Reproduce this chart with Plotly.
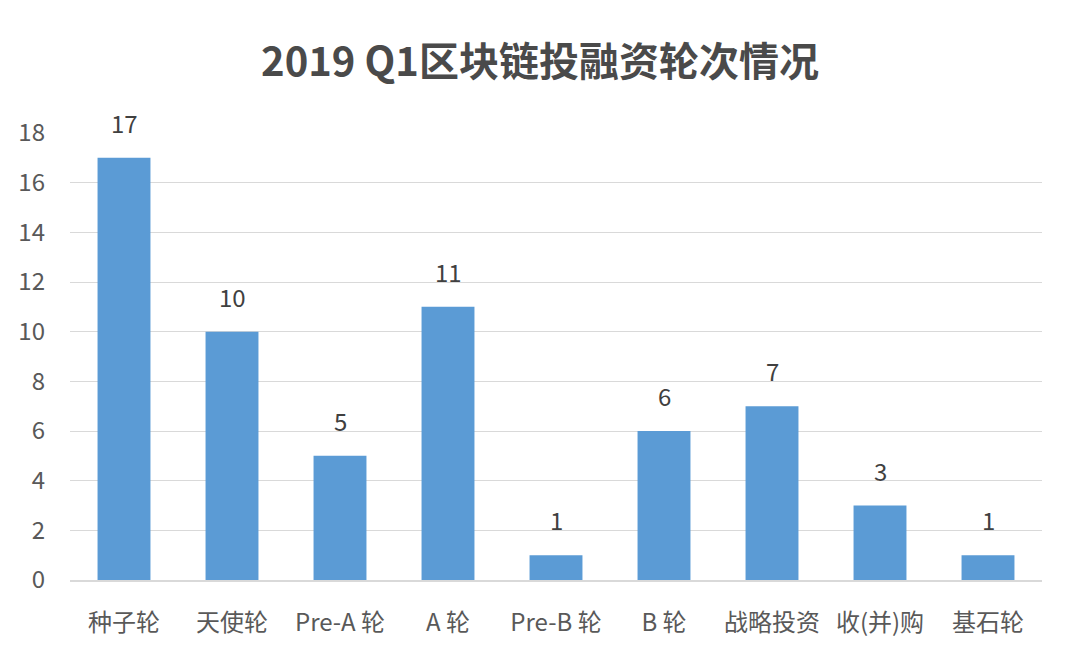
import plotly.graph_objects as go

categories = ["种子轮", "天使轮", "Pre-A 轮", "A 轮", "Pre-B 轮", "B 轮", "战略投资", "收(并)购", "基石轮"]
counts = [17, 10, 5, 11, 1, 6, 7, 3, 1]
y_ticks = [0, 2, 4, 6, 8, 10, 12, 14, 16, 18]

FONT = "Noto Sans CJK SC, Open Sans, sans-serif"

fig = go.Figure(go.Bar(
    x=categories, y=counts,
    marker=dict(color="#5b9bd5", line=dict(width=0)),
))

for c, v in zip(categories, counts):
    fig.add_annotation(x=c, y=v, text=str(v), showarrow=False,
                       yanchor="bottom", yshift=16,
                       font=dict(family=FONT, size=24, color="#404040"))

fig.update_layout(
    width=1080, height=657,
    margin=dict(l=70, r=38, t=133, b=77),
    paper_bgcolor="white", plot_bgcolor="white",
    bargap=0.51,
    showlegend=False,
    title=dict(text="<b>2019 Q1区块链投融资轮次情况</b>", x=0.5, xanchor="center",
               y=0.905, yanchor="middle",
               font=dict(family=FONT, size=40, color="#4a4a4a")),
    font=dict(family=FONT, color="#595959"),
)
fig.update_xaxes(
    showgrid=False, showline=True, linecolor="#d9d9d9", linewidth=1.5,
    ticks="", tickfont=dict(family=FONT, size=24, color="#595959"),
    ticklabelstandoff=20,
)
fig.update_yaxes(
    range=[0, 18], tickvals=y_ticks, showgrid=True, gridcolor="#d9d9d9", gridwidth=1,
    zeroline=False, showline=False, ticks="",
    tickfont=dict(family=FONT, size=24, color="#595959"),
    ticklabelstandoff=24,
)

fig.write_html("out.html")
